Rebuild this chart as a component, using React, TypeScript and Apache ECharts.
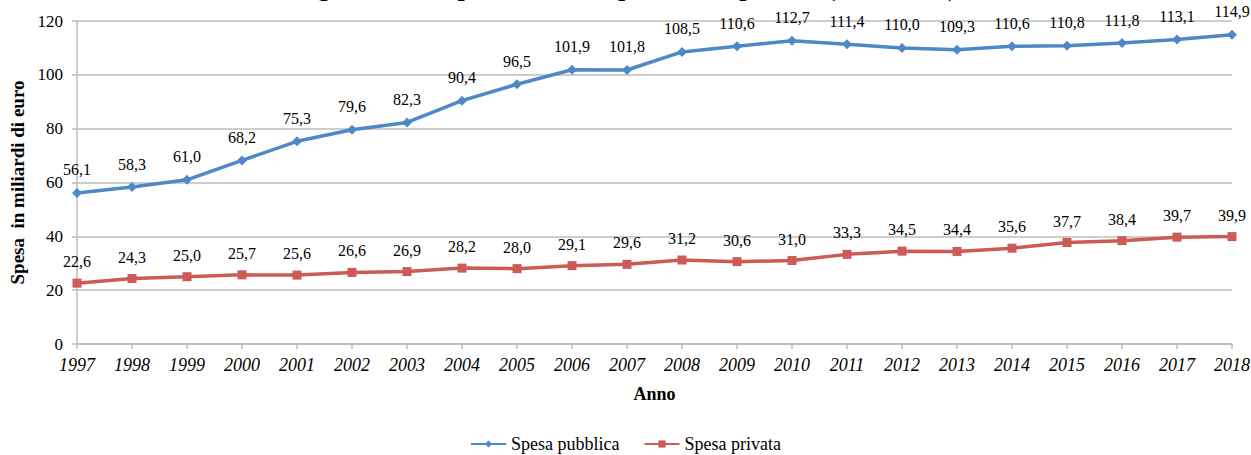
import React, { useEffect, useRef } from "react";
import * as echarts from "echarts";

const years = ["1997","1998","1999","2000","2001","2002","2003","2004","2005","2006","2007","2008","2009","2010","2011","2012","2013","2014","2015","2016","2017","2018"];
const spesaPubblica = [56.1, 58.3, 61.0, 68.2, 75.3, 79.6, 82.3, 90.4, 96.5, 101.9, 101.8, 108.5, 110.6, 112.7, 111.4, 110.0, 109.3, 110.6, 110.8, 111.8, 113.1, 114.9];
const spesaPrivata = [22.6, 24.3, 25.0, 25.7, 25.6, 26.6, 26.9, 28.2, 28.0, 29.1, 29.6, 31.2, 30.6, 31.0, 33.3, 34.5, 34.4, 35.6, 37.7, 38.4, 39.7, 39.9];
const titleText = "Figura 1 - La spesa sanitaria pubblica e privata (1997-2018)";

const FONT = "Liberation Serif";
const BLUE = "#4F88C6";
const RED = "#CC5A55";
const GRAY = "#BDBDBD";

const fmt = (p: any) => Number(p.value).toFixed(1).replace(".", ",");

export default function App() {
  const ref = useRef<HTMLDivElement>(null);
  useEffect(() => {
    if (!ref.current) return;
    const chart = echarts.init(ref.current, null, { renderer: "svg" });
    chart.setOption({
      animation: false,
      backgroundColor: "#ffffff",
      textStyle: { fontFamily: FONT },
      graphic: [
        {
          type: "text",
          left: "center",
          top: -26,
          style: {
            text: titleText,
            font: `bold 26px "${FONT}"`,
            fill: "#000",
          },
        },
      ],
      legend: {
        bottom: -3,
        left: "center",
        itemWidth: 35,
        itemHeight: 9,
        itemGap: 24,
        textStyle: { fontFamily: FONT, fontSize: 18, color: "#000" },
        data: ["Spesa pubblica", "Spesa privata"],
      },
      grid: { left: 77, right: 19, top: 21, bottom: 111, containLabel: false, outerBoundsMode: "none" },
      xAxis: {
        type: "category",
        data: years,
        boundaryGap: false,
        name: "Anno",
        nameLocation: "middle",
        nameGap: 41,
        nameTextStyle: { fontFamily: FONT, fontSize: 18, fontWeight: "bold", color: "#000", verticalAlign: "top" },
        axisLine: { lineStyle: { color: GRAY, width: 1.5 } },
        axisTick: { alignWithLabel: true, length: 5, lineStyle: { color: GRAY, width: 1.5 } },
        axisLabel: { fontFamily: FONT, fontSize: 18, fontStyle: "italic", color: "#000", margin: 12 },
        splitLine: { show: false },
      },
      yAxis: {
        type: "value",
        min: 0,
        max: 120,
        interval: 20,
        name: "Spesa  in miliardi di euro",
        nameLocation: "middle",
        nameGap: 50,
        nameRotate: 90,
        nameTextStyle: { fontFamily: FONT, fontSize: 19, fontWeight: "bold", color: "#000" },
        axisLine: { show: true, lineStyle: { color: GRAY, width: 1.5 } },
        axisTick: { show: true, length: 5, lineStyle: { color: GRAY, width: 1.5 } },
        axisLabel: { fontFamily: FONT, fontSize: 17, color: "#000", margin: 14 },
        splitLine: { lineStyle: { color: GRAY, width: 1.5 } },
      },
      series: [
        {
          name: "Spesa pubblica",
          type: "line",
          data: spesaPubblica,
          symbol: "diamond",
          symbolSize: 10,
          lineStyle: { color: BLUE, width: 3.5 },
          itemStyle: { color: BLUE },
          label: {
            show: true,
            position: "top",
            distance: 10,
            formatter: fmt,
            fontFamily: FONT,
            fontSize: 16,
            color: "#000",
          },
        },
        {
          name: "Spesa privata",
          type: "line",
          data: spesaPrivata,
          symbol: "rect",
          symbolSize: 9,
          lineStyle: { color: RED, width: 3.5 },
          itemStyle: { color: RED },
          label: {
            show: true,
            position: "top",
            distance: 9,
            formatter: fmt,
            fontFamily: FONT,
            fontSize: 16,
            color: "#000",
          },
        },
      ],
    });
    return () => chart.dispose();
  }, []);
  return (
    <div
      ref={ref}
      style={{ position: "fixed", left: 0, top: 0, width: 1251, height: 455 }}
    />
  );
}
